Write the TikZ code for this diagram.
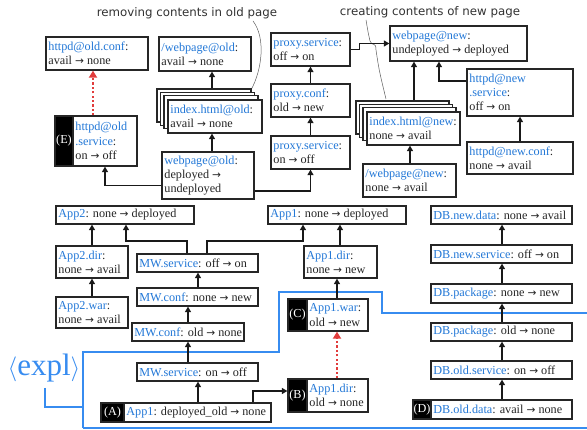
\documentclass[tikz,border=0pt]{standalone}
\usepackage{fontspec}
\setmainfont{Liberation Serif}
\newfontfamily\capfont{DejaVu Sans}
\usetikzlibrary{arrows.meta,calc}
\definecolor{nb}{RGB}{35,120,215}
\definecolor{eb}{RGB}{55,140,240}
\definecolor{rd}{RGB}{225,60,60}
\definecolor{cg}{RGB}{50,50,50}
\newcommand{\kw}[1]{\textcolor{nb}{#1}}
\newcommand{\ra}{{\capfont\fontsize{10.6}{12}\selectfont →}}
\newcommand{\bx}[6]{%
  \pgfmathsetmacro\bxa{((#2)+(#4))/2}\pgfmathsetmacro\bxb{((#3)+(#5))/2}%
  \pgfmathsetmacro\bxw{(#4)-(#2)}\pgfmathsetmacro\bxh{(#5)-(#3)}%
  \pgfmathsetmacro\bxl{(#2)+2.2}%
  \node[box,minimum width=\bxw pt,minimum height=\bxh pt] (#1) at (\bxa,\bxb) {};
  \node[boxtxt,anchor=west] (#1t) at (\bxl,\bxb) {#6};}
\newcommand{\lbx}[8]{%
  \pgfmathsetmacro\bxa{((#2)+(#4))/2}\pgfmathsetmacro\bxb{((#3)+(#6))/2}%
  \pgfmathsetmacro\bxw{(#4)-(#2)}\pgfmathsetmacro\bxh{(#6)-(#3)}%
  \node[lbl,minimum width=\bxw pt,minimum height=\bxh pt] (#1l) at (\bxa,\bxb) {#7};
  \bx{#1}{#4}{#3}{#5}{#6}{#8}}
\newcommand{\stk}[6]{%
  \bx{#13}{(#2)-11}{(#3)-11}{(#4)-11}{(#5)-11}{}
  \bx{#12}{(#2)-7.5}{(#3)-7.5}{(#4)-7.5}{(#5)-7.5}{}
  \bx{#11}{(#2)-4}{(#3)-4.5}{(#4)-4}{(#5)-4.5}{}
  \bx{#1}{#2}{#3}{#4}{#5}{#6}}
\begin{document}
\begin{tikzpicture}[x=1pt,y=-1pt,
  box/.style={draw=black!85,line width=1.3pt,fill=white,inner sep=0pt},
  boxtxt/.style={inner sep=0pt,align=left,font=\fontsize{12.2}{14.3}\selectfont,text=black!85},
  lbl/.style={draw=black!85,line width=1.3pt,fill=black,text=white,inner sep=0pt,
    font=\fontsize{12.2}{14.3}\selectfont},
  arr/.style={black!90,line width=1.2pt,-{Triangle[length=5.5pt,width=6pt]}},
  reddot/.style={rd,line width=2.6pt,dash pattern=on 2.2pt off 2.2pt,
    -{Triangle[length=7pt,width=8pt]}},
  expl/.style={eb,line width=1.8pt},
  captxt/.style={font=\capfont\fontsize{11.8}{13}\selectfont,text=cg,inner sep=0pt},
  ann/.style={cg!80,line width=0.5pt}]
\useasboundingbox (0,0) rectangle (587,430);
% explanation region
\draw[expl] (83,428) -- (83,352) -- (279,352) -- (279,292) -- (382,292) -- (382,313) -- (590,313);
\draw[expl] (83,428) -- (590,428);
\draw[expl] (45,388) -- (45,407) -- (83,407);
\node[eb,font=\fontsize{31}{34}\selectfont,inner sep=0pt] (explt) at (44,368) {$\langle$expl$\rangle$};
% captions
\node[captxt] (cap1) at (187,13) {removing contents in old page};
\node[captxt] (cap2) at (430,12) {creating contents of new page};
\draw[ann] (253,21) .. controls (266,38) and (262,70) .. (251,90);
% top-left group
\bx{hoc}{46}{37}{148}{70}{\kw{httpd@old.conf}:\\avail \ra{} none}
\bx{wold}{159}{37}{251}{71}{\kw{/webpage@old}:\\avail \ra{} none}
\stk{iold}{168}{100}{262}{133}{\kw{index.html@old}:\\avail \ra{} none}
\lbx{hos}{55}{116}{73}{137}{166}{(E)}{\kw{httpd@old}\\\kw{.service}:\\on \ra{} off}
\bx{wpold}{162}{152}{254}{199}{\kw{webpage@old}:\\deployed \ra\\undeployed}
% proxy
\bx{ps2}{271}{33}{350}{66}{\kw{proxy.service}:\\off \ra{} on}
\bx{pc}{271}{84}{350}{117}{\kw{proxy.conf}:\\old \ra{} new}
\bx{ps1}{271}{136}{350}{169}{\kw{proxy.service}:\\on \ra{} off}
% new page
\bx{wpnew}{390}{26}{527}{61}{\kw{webpage@new}:\\undeployed \ra{} deployed}
\bx{hns}{467}{69}{573}{116}{\kw{httpd@new}\\\kw{.service}:\\off \ra{} on}
\stk{inew}{367}{112}{460}{145}{\kw{index.html@new}:\\none \ra{} avail}
\bx{hnc}{467}{142}{573}{174}{\kw{httpd@new.conf}:\\none \ra{} avail}
\bx{wnew}{363}{164}{456}{197}{\kw{/webpage@new}:\\none \ra{} avail}
% App2 / MW
\bx{app2}{56}{206}{194}{224}{\kw{App2}: none \ra{} deployed}
\bx{app2dir}{56}{246}{128}{278}{\kw{App2.dir}:\\none \ra{} avail}
\bx{app2war}{56}{297}{128}{328}{\kw{App2.war}:\\none \ra{} avail}
\bx{mws2}{137}{254}{258}{272}{\kw{MW.service}: off \ra{} on}
\bx{mwc2}{137}{288}{258}{306}{\kw{MW.conf}: none \ra{} new}
\bx{mwc1}{132}{323}{244}{341}{\kw{MW.conf}: old \ra{} none}
\bx{mws1}{137}{363}{258}{381}{\kw{MW.service}: on \ra{} off}
\lbx{A}{101}{403}{124}{271}{422}{(A)}{\kw{App1}: deployed\_old \ra{} none}
% App1
\bx{app1}{268}{206}{406}{224}{\kw{App1}: none \ra{} deployed}
\bx{app1dir}{304}{246}{377}{278}{\kw{App1.dir}:\\none \ra{} new}
\lbx{C}{288}{299}{307}{368}{331}{(C)}{\kw{App1.war}:\\old \ra{} new}
\lbx{B}{288}{379}{307}{368}{412}{(B)}{\kw{App1.dir}:\\old \ra{} none}
% DB
\bx{dbnd}{431}{206}{572}{224}{\kw{DB.new.data}: none \ra{} avail}
\bx{dbns}{431}{245}{572}{263}{\kw{DB.new.service}: off \ra{} on}
\bx{dbpn}{431}{284}{572}{303}{\kw{DB.package}: none \ra{} new}
\bx{dbpo}{431}{323}{572}{341}{\kw{DB.package}: old \ra{} none}
\bx{dbos}{431}{361}{572}{379}{\kw{DB.old.service}: on \ra{} off}
\lbx{D}{413}{400}{431}{572}{419}{(D)}{\kw{DB.old.data}: avail \ra{} none}
% annotation curve (new page) with hop
\draw[ann] (366,20) .. controls (368,32) .. (370,41) .. controls (372,47) and (376,41) .. (376,50) .. controls (379,70) .. (386,99);
% connectors
\draw[reddot] (hos.north -| 93,0) -- (hoc.south -| 93,0);
\draw[arr] ([yshift=-10pt]wpold.west) -| (hos.south -| 105,0);
\draw[arr] ([yshift=-15.5pt]wpold.east) -| (ps1.south);
\draw[arr] (wpold.north -| 212,0) -- (iold.south -| 212,0);
\draw[arr] (iold3.north -| 212,0) -- (wold.south -| 212,0);
\draw[arr] (ps1.north) -- (pc.south);
\draw[arr] (pc.north) -- (ps2.south);
\draw[arr] (ps2.east) -- ++(9,0) |- (wpnew.west);
\draw[arr] (inew3.north -| 414,0) -- (wpnew.south -| 414,0);
\draw[arr] ([yshift=11.5pt]hns.west) -| (wpnew.south -| 439,0);
\draw[arr] (hnc.north -| 520,0) -- (hns.south -| 520,0);
\draw[arr] (wnew.north -| 410,0) -- (inew.south -| 410,0);
\draw[arr] (app2war.north) -- (app2dir.south);
\draw[arr] (app2dir.north) -- (app2dir.north |- app2.south);
\draw[arr] (mws2.north -| 187,0) |- (126,241) -- (app2.south -| 126,0);
\draw[arr] (mws2.north -| 207,0) |- (303,241) -- (app1.south -| 303,0);
\draw[arr] (mwc2.north -| 198,0) -- (mws2.south -| 198,0);
\draw[arr] (mwc1.north -| 188,0) -- (mwc2.south -| 188,0);
\draw[arr] (mws1.north -| 188,0) -- (mwc1.south -| 188,0);
\draw[arr] (A.north -| 198,0) -- (mws1.south -| 198,0);
\draw[arr] (A.north -| 253,0) |- (Bl.west |- 0,391);
\draw[reddot] (B.north -| 337,0) -- (C.south -| 337,0);
\draw[arr] (C.north -| 337,0) -- (app1dir.south -| 337,0);
\draw[arr] (app1dir.north -| 340,0) -- (app1.south -| 340,0);
\draw[arr] (D.north -| 502,0) -- (dbos.south -| 502,0);
\draw[arr] (dbos.north -| 502,0) -- (dbpo.south -| 502,0);
\draw[arr] (dbpo.north -| 502,0) -- (dbpn.south -| 502,0);
\draw[arr] (dbpn.north -| 502,0) -- (dbns.south -| 502,0);
\draw[arr] (dbns.north -| 502,0) -- (dbnd.south -| 502,0);
\end{tikzpicture}
\end{document}
